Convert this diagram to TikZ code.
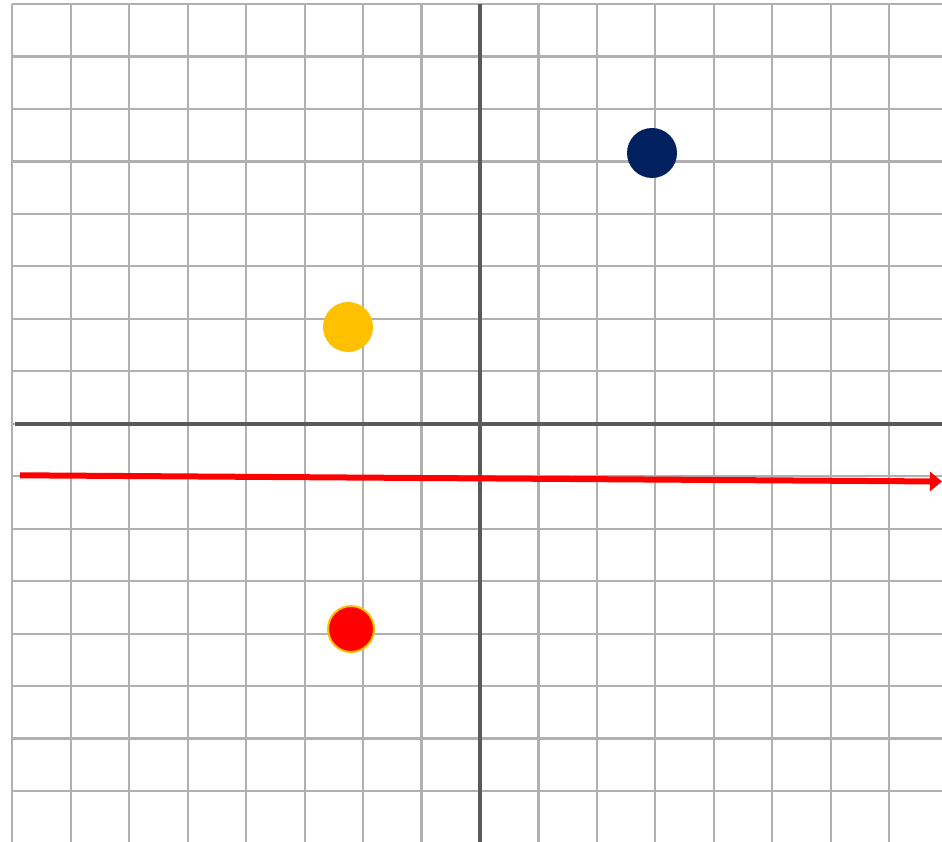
\documentclass[tikz,border=0pt]{standalone}
\usetikzlibrary{arrows.meta}
\definecolor{gridgray}{HTML}{B0B0B0}
\definecolor{axisgray}{HTML}{5A5A5A}
\definecolor{navy}{HTML}{002060}
\definecolor{gold}{HTML}{FFC000}
\definecolor{redc}{HTML}{FF0000}
\tikzset{
  gridline/.style={draw=gridgray,line width=2.2pt},
  axisline/.style={draw=axisgray,line width=4pt},
  dot/.style={circle,inner sep=0pt,minimum size=#1},
  redarrow/.style={draw=redc,line width=6pt,-{Triangle[length=12pt,width=19pt]}}
}
\begin{document}
\begin{tikzpicture}[x=1pt,y=-1pt]
\useasboundingbox[fill=white] (0,0) rectangle (942,842);
% grid
\foreach \k in {0,...,15} {
  \draw[gridline] ({12.3+58.46*\k},4) -- ({12.3+58.46*\k},842);
  \draw[gridline] (12.3,{4+52.47*\k}) -- (942,{4+52.47*\k});
}
% axes
\coordinate (xl) at (15,423.8);
\coordinate (xr) at (942,423.8);
\coordinate (yt) at (480,4);
\coordinate (yb) at (480,842);
\draw[axisline] (xl) -- (xr);
\draw[axisline] (yt) -- (yb);
% red arrow
\coordinate (as) at (20,475.3);
\coordinate (ae) at (942,481.5);
\draw[redarrow] (as) -- (ae);
% dots
\node[dot=50pt,fill=navy] (blue) at (652,153) {};
\node[dot=50pt,fill=gold] (yellow) at (348,327) {};
\node[dot=46pt,fill=redc,draw=gold,line width=2pt] (red) at (351,629) {};
\end{tikzpicture}
\end{document}
